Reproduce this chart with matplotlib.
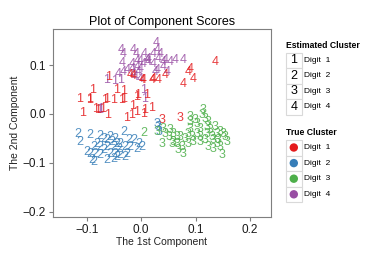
import matplotlib
matplotlib.use('Agg')
import matplotlib.pyplot as plt
from matplotlib.patches import Rectangle, Circle

plt.rcParams['font.family'] = ['Liberation Sans', 'DejaVu Sans']

# Set1 colours for the true clusters
true_colors = ['#E41A1C', '#377EB8', '#4DAF4A', '#984EA3']
digit_labels = ['Digit  1', 'Digit  2', 'Digit  3', 'Digit  4']

# true digit 4, estimated 4
t4e4_x = [0.0275, 0.0287, -0.0373, -0.0324, -0.0141, -0.0092, 0.0055, 0.0226, 0.0349, 0.0440,
          0.0532, 0.0624, 0.0777, -0.0355, -0.0171, -0.0080, -0.0018, 0.0104, 0.0135, 0.0318,
          0.0410, -0.0263, -0.0171, -0.0080, -0.0018, 0.0287, 0.0410, 0.0471, -0.0324, -0.0416,
          -0.0141, -0.0049, 0.0043, 0.0226, 0.0135, -0.0110, -0.0018, 0.0257]
t4e4_y = [0.1455, 0.1305, 0.1305, 0.1223, 0.1305, 0.1236, 0.1223, 0.1236, 0.1236, 0.1100,
          0.1066, 0.1100, 0.1100, 0.1045, 0.1031, 0.1086, 0.1086, 0.1100, 0.1127, 0.1134,
          0.1066, 0.0895, 0.0929, 0.0963, 0.0929, 0.0895, 0.0963, 0.0861, 0.0861, 0.0827,
          0.0827, 0.0861, 0.1031, 0.1031, 0.1066, 0.0758, 0.0724, 0.0861]

# true digit 4, estimated 1
t4e1_x = [-0.0630, -0.0495, -0.0385, 0.0043, 0.0055, -0.0771, -0.0740]
t4e1_y = [0.0690, 0.0676, 0.0690, 0.0485, 0.0314, 0.0075, 0.0109]

# true digit 1, estimated 4
t1e4_x = [0.0899, 0.0869, 0.0960, 0.0777, 0.1358, -0.0202, -0.0141, 0.0012, 0.0043, 0.0196,
          0.0226, 0.0318, 0.0440]
t1e4_y = [0.0929, 0.0861, 0.0724, 0.0622, 0.1066, 0.0792, 0.0772, 0.0690, 0.0704, 0.0690,
          0.0724, 0.0690, 0.0792]

# true digit 1, estimated 1
t1e1_x = [-0.0599, -0.0446, -0.0324, -0.0887, -0.1131, -0.0948, -0.0948, -0.1070, -0.0844, -0.0679,
          -0.0642, -0.0795, -0.0703, -0.0612, -0.0508, -0.0355, -0.0324, -0.0171, -0.0275, -0.0061,
          -0.0080, 0.0092, -0.0153, 0.0061, 0.0196, 0.0043, -0.0080]
t1e1_y = [0.0758, 0.0485, 0.0471, 0.0499, 0.0307, 0.0307, 0.0280, 0.0027, 0.0109, 0.0280,
          0.0307, 0.0075, 0.0109, -0.0027, 0.0280, 0.0280, 0.0301, -0.0027, -0.0075, 0.0383,
          0.0348, 0.0383, 0.0157, 0.0075, 0.0130, 0.0007, 0.0041]

# true digit 1, estimated 3
t1e3_x = [0.0391, 0.0716]
t1e3_y = [-0.0116, -0.0075]

# true digit 2, estimated 2
t2e2_x = [-0.1168, -0.1119, -0.0948, -0.0765, -0.0691, -0.0630, -0.0569, -0.0477, -0.0324, -0.0385,
          -0.0232, -0.0141, -0.0049, 0.0012, -0.0875, -0.0752, -0.0630, -0.0508, -0.0416, -0.0294,
          -0.0202, -0.0080, -0.0936, -0.0844, -0.0752, -0.0569, -0.0477, -0.0385, -0.0263, -0.0905,
          -0.0875, -0.0630, -0.0508, -0.0446, -0.0294, -0.0813, -0.0691, -0.0997, -0.0538, -0.0446]
t2e2_y = [-0.0403, -0.0574, -0.0437, -0.0458, -0.0505, -0.0540, -0.0471, -0.0505, -0.0369, -0.0608,
          -0.0540, -0.0540, -0.0608, -0.0676, -0.0676, -0.0676, -0.0676, -0.0676, -0.0710, -0.0676,
          -0.0676, -0.0710, -0.0813, -0.0813, -0.0847, -0.0813, -0.0813, -0.0847, -0.0813, -0.0949,
          -0.0984, -0.0949, -0.0915, -0.0881, -0.0881, -0.0608, -0.0745, -0.0779, -0.0574, -0.0608]

# true digit 2, estimated 3
t2e3_x = [0.0287, 0.0336, 0.0318]
t2e3_y = [-0.0198, -0.0369, -0.0266]

# true digit 3, estimated 2
t3e2_x = [0.0055]
t3e2_y = [-0.0389]

# true digit 3, estimated 3
t3e3_x = [0.0287, 0.0410, 0.0532, 0.0593, 0.0502, 0.0593, 0.0654, 0.0746, 0.0685, 0.0777,
          0.0563, 0.0654, 0.0716, 0.0807, 0.0869, 0.0899, 0.1083, 0.1174, 0.1144, 0.1113,
          0.1205, 0.1021, 0.0899, 0.0899, 0.1083, 0.1205, 0.1297, 0.1327, 0.1266, 0.1358,
          0.1388, 0.1419, 0.1450, 0.1388, 0.1480, 0.1327, 0.1511, 0.1541, 0.1572, 0.1450,
          0.1083, 0.1021, 0.0930, 0.0960, 0.0869, 0.0991, 0.1235, 0.1174, 0.1235, 0.0440,
          0.0379]
t3e3_y = [-0.0369, -0.0301, -0.0335, -0.0403, -0.0471, -0.0574, -0.0608, -0.0676, -0.0745, -0.0813,
          -0.0608, -0.0471, -0.0471, -0.0505, -0.0403, -0.0301, -0.0301, -0.0096, 0.0075, -0.0027,
          -0.0266, -0.0198, -0.0061, -0.0164, -0.0471, -0.0403, -0.0471, -0.0540, -0.0335, -0.0266,
          -0.0403, -0.0540, -0.0676, -0.0608, -0.0847, -0.0710, -0.0403, -0.0471, -0.0574, -0.0369,
          -0.0574, -0.0403, -0.0471, -0.0574, -0.0608, -0.0130, -0.0164, -0.0540, -0.0676, -0.0403,
          -0.0608]

groups = [
    (t4e4_x, t4e4_y, 4, '4'),
    (t4e1_x, t4e1_y, 4, '1'),
    (t1e4_x, t1e4_y, 1, '4'),
    (t1e1_x, t1e1_y, 1, '1'),
    (t1e3_x, t1e3_y, 1, '3'),
    (t2e2_x, t2e2_y, 2, '2'),
    (t2e3_x, t2e3_y, 2, '3'),
    (t3e2_x, t3e2_y, 3, '2'),
    (t3e3_x, t3e3_y, 3, '3'),
]

W, H = 382, 254
fig = plt.figure(figsize=(W / 100, H / 100), dpi=100)
ax = fig.add_axes([53 / W, (H - 217) / H, (271 - 53) / W, (217 - 29) / H])

for xs, ys, true_d, est in groups:
    for x, y in zip(xs, ys):
        ax.text(x, y, est, color=true_colors[true_d - 1], fontsize=9,
                ha='center', va='center', alpha=0.85)

ax.set_xlim(-0.162, 0.2385)
ax.set_ylim(-0.211, 0.174)
ax.set_xticks([-0.1, 0.0, 0.1, 0.2])
ax.set_xticklabels(['\u22120.1', '0.0', '0.1', '0.2'])
ax.set_yticks([-0.2, -0.1, 0.0, 0.1])
ax.set_yticklabels(['\u22120.2', '\u22120.1', '0.0', '0.1'])
for s in ax.spines.values():
    s.set_color('#7f7f7f')
    s.set_linewidth(0.8)
ax.tick_params(colors='#7f7f7f', labelcolor='#1a1a1a', labelsize=8.5, length=3, width=0.8, pad=2)

ax.set_title('Plot of Component Scores', fontsize=9, pad=3)
ax.set_xlabel('The 1st Component', fontsize=7.5, color='#222222', labelpad=1)
ax.set_ylabel('The 2nd Component', fontsize=7.5, color='#222222', labelpad=2)

# legend panel in pixel coordinates
lg = fig.add_axes([0, 0, 1, 1])
lg.set_xlim(0, W)
lg.set_ylim(H, 0)
lg.axis('off')

lg.text(286, 45.5, 'Estimated Cluster', fontsize=6.2, fontweight='bold', va='center', ha='left')
for i in range(4):
    yc = 60.2 + i * 15.5
    lg.add_patch(Rectangle((286, yc - 7.5), 15.5, 15.5, facecolor='white', edgecolor='#d9d9d9', lw=0.8))
    lg.text(293.8, yc, str(i + 1), fontsize=9, ha='center', va='center', color='black')
    lg.text(303.5, yc, digit_labels[i], fontsize=6, ha='left', va='center')

lg.text(286, 132.5, 'True Cluster', fontsize=6.2, fontweight='bold', va='center', ha='left')
for i in range(4):
    yc = 147.5 + i * 15.6
    lg.add_patch(Rectangle((286, yc - 7.6), 15.5, 15.6, facecolor='white', edgecolor='#d9d9d9', lw=0.8))
    lg.add_patch(Circle((293.8, yc), 4.2, facecolor=true_colors[i], edgecolor='none'))
    lg.text(303.5, yc, digit_labels[i], fontsize=6, ha='left', va='center')

fig.savefig('out.png', dpi=100)
